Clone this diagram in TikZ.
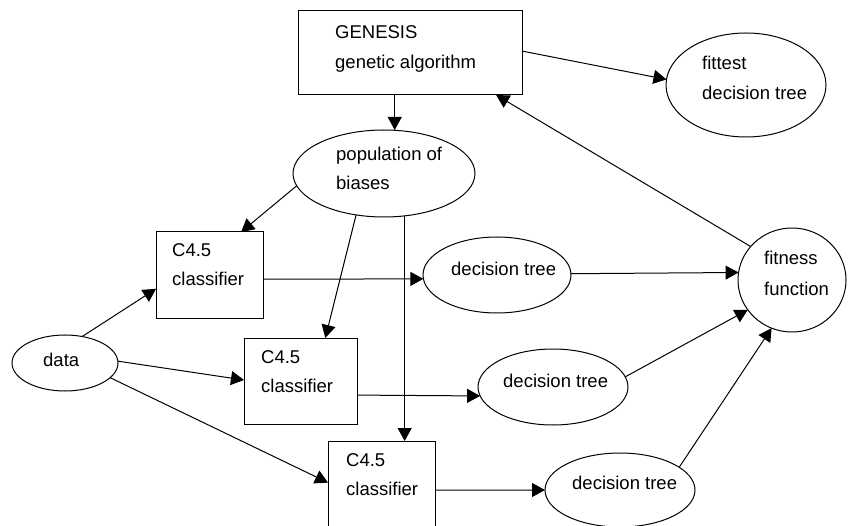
\documentclass[tikz,border=0pt]{standalone}
\usepackage{fontspec}
\setmainfont{Liberation Sans}
\usetikzlibrary{shapes.geometric,arrows.meta}

\begin{document}
\begin{tikzpicture}[x=1pt,y=-1pt,
  shp/.style={draw, line width=1pt, inner sep=0pt, outer sep=0pt},
  boxshape/.style={shp, rectangle, minimum width=#1},
  ovalshape/.style={shp, ellipse},
  lbl/.style={anchor=base west, inner sep=0pt, font=\fontsize{18.5}{22}\selectfont},
  conn/.style={line width=1pt, -{Triangle[length=13pt,width=14pt]}}]

  \useasboundingbox[fill=white] (0,0) rectangle (848,526);

  % shapes
  \node[boxshape=224pt, minimum height=84pt] (gen) at (410,53) {};
  \node[ovalshape, minimum width=160pt, minimum height=104pt] (fit) at (746,85) {};
  \node[ovalshape, minimum width=182pt, minimum height=87pt] (pop) at (384,173.5) {};
  \node[boxshape=107pt, minimum height=87pt] (b1) at (209.5,275.5) {};
  \node[ovalshape, minimum width=148pt, minimum height=76pt] (dt1) at (497,275) {};
  \node[ovalshape, minimum width=108pt, minimum height=104pt] (ff) at (792,280) {};
  \node[ovalshape, minimum width=106pt, minimum height=56pt] (data) at (65,363) {};
  \node[boxshape=113pt, minimum height=86pt] (b2) at (300.5,381) {};
  \node[ovalshape, minimum width=150pt, minimum height=76pt] (dt2) at (553,387) {};
  \node[boxshape=107pt, minimum height=87pt] (b3) at (381.5,484.5) {};
  \node[ovalshape, minimum width=150pt, minimum height=74pt] (dt3) at (620,490) {};

  % labels
  \node[lbl] (genA) at (335,39) {GENESIS};
  \node[lbl] (genB) at (335,69) {genetic algorithm};
  \node[lbl] (fitA) at (702,70) {fittest};
  \node[lbl] (fitB) at (702,100) {decision tree};
  \node[lbl] (popA) at (336,161) {population of};
  \node[lbl] (popB) at (336,190) {biases};
  \node[lbl] (b1A) at (172,257) {C4.5};
  \node[lbl] (b1B) at (172,286) {classifier};
  \node[lbl] (dt1A) at (451,276) {decision tree};
  \node[lbl] (ffA) at (764,265) {fitness};
  \node[lbl] (ffB) at (764,296) {function};
  \node[lbl] (dataA) at (43,366) {data};
  \node[lbl] (b2A) at (261,363) {C4.5};
  \node[lbl] (b2B) at (261,392) {classifier};
  \node[lbl] (dt2A) at (503,387) {decision tree};
  \node[lbl] (b3A) at (346,466) {C4.5};
  \node[lbl] (b3B) at (346,495) {classifier};
  \node[lbl] (dt3A) at (572,489) {decision tree};

  % connectors
  \draw[conn] (gen.250.3) -- (gen.250.3 |- pop.north);
  \draw[conn] (gen.1.02) -- (fit.176.4);
  \draw[conn] (ff.141.8) -- (gen.-26.3);
  \draw[conn] (pop.188.6) -- (b1.54.96);
  \draw[conn] (pop.236.0) -- (b2.60.3);
  \draw[conn] (pop.-64.8) -- (pop.-64.8 |- b3.north);
  \draw[conn] (b1.-4.8) -- (dt1.183.9);
  \draw[conn] (b2.-14.87) -- (dt2.187.03);
  \draw[conn] (b3.-6.93) -- (dt3.180.76);
  \draw[conn] (dt1.1.5) -- (ff.172.5);
  \draw[conn] (dt2.8.69) -- (ff.214.3);
  \draw[conn] (dt3.21.0) -- (ff.247.1);
  \draw[conn] (data.57.8) -- (b1.194.9);
  \draw[conn] (data.2.1) -- (b2.179);
  \draw[conn] (data.-18.8) -- (b3.178.4);
\end{tikzpicture}
\end{document}
